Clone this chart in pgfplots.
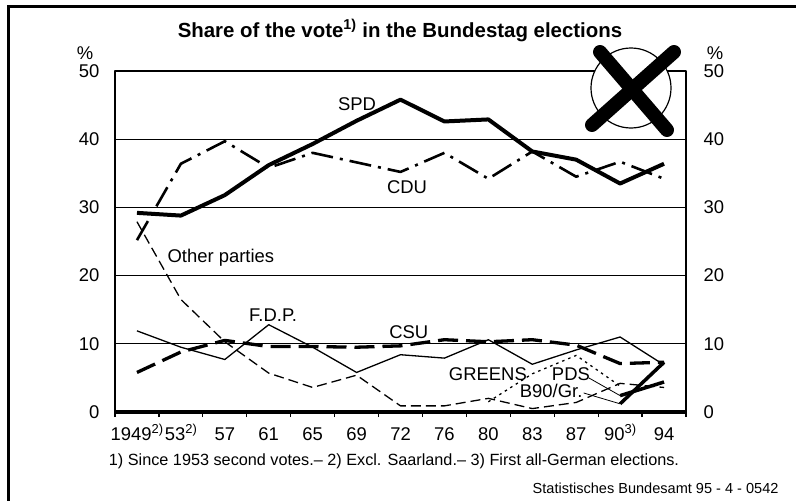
\documentclass[border=0pt]{standalone}
\usepackage{fontspec}
\setmainfont{Liberation Sans}
\usepackage{pgfplots}
\pgfplotsset{compat=1.18}
\newcommand{\lf}{\fontsize{18.5}{22}\selectfont}
\newcommand{\fnsup}[1]{\raisebox{0.38em}{\fontsize{13}{15}\selectfont #1}}
\begin{document}
\begin{tikzpicture}
\useasboundingbox (0bp,0bp) rectangle (796bp,-501bp);
\draw[line width=2.2bp] (8.5bp,-501bp) -- (8.5bp,-6.5bp) -- (796bp,-6.5bp);
\node[anchor=base, font=\fontsize{20.5}{24}\selectfont\bfseries] at (400bp,-37.3bp) {Share of the vote\textsuperscript{1)} in the Bundestag elections};
\node[font=\lf] at (85bp,-53.5bp) {\%};
\node[font=\lf] at (715bp,-53.5bp) {\%};
\begin{axis}[at={(115bp,-412bp)}, anchor=south west, scale only axis,
  width=571bp, height=341bp, xmin=-0.5, xmax=12.5, ymin=0, ymax=50,
  clip=false,
  /pgf/number format/assume math mode=true,
  ytick={0,10,...,50}, ytick pos=left,
  yticklabel style={anchor=east, xshift=-12bp, font=\lf},
  ymajorgrids, grid style={line width=1bp, black},
  xtick={0,...,12},
  xticklabels={1949\fnsup{2)},53\fnsup{2)},57,61,65,69,72,76,80,83,87,90\fnsup{3)},94},
  minor xtick={-0.5,0.5,...,12.5}, xtick pos=bottom, tick align=outside,
  major tick length=0pt, minor tick length=5bp,
  minor tick style={line width=1.2bp, black},
  xticklabel style={anchor=base, yshift=-28bp, font=\lf},
  axis line style={line width=1.2bp},
  line join=round]
\draw[line width=3.3bp] (axis cs:-0.5,0) -- (axis cs:12.5,0);
% Other parties
\addplot[line width=1.3bp, dash pattern=on 10bp off 5bp] coordinates {
(0,27.9)(1,16.5)(2,10.3)(3,5.7)(4,3.6)(5,5.4)(6,0.9)(7,0.9)(8,2.0)(9,0.5)(10,1.4)(11,4.2)(12,3.6)};
% FDP
\addplot[line width=1.3bp] coordinates {
(0,11.9)(1,9.5)(2,7.7)(3,12.8)(4,9.5)(5,5.8)(6,8.4)(7,7.9)(8,10.6)(9,7.0)(10,9.1)(11,11.0)(12,6.9)};
% Greens
\addplot[line width=1.3bp, dash pattern=on 2.5bp off 4bp] coordinates {
(8,1.5)(9,5.6)(10,8.3)(11,3.8)};
% CSU
\addplot[line width=3.3bp, dash pattern=on 20bp off 8bp] coordinates {
(0,5.8)(1,8.8)(2,10.5)(3,9.6)(4,9.6)(5,9.5)(6,9.7)(7,10.6)(8,10.3)(9,10.6)(10,9.8)(11,7.1)(12,7.3)};
% CDU
\addplot[line width=2.6bp, dash pattern=on 22bp off 7bp on 3bp off 7bp] coordinates {
(0,25.2)(1,36.4)(2,39.7)(3,35.8)(4,38.0)(5,36.6)(6,35.2)(7,38.0)(8,34.2)(9,38.2)(10,34.5)(11,36.7)(12,34.2)};
% PDS
\addplot[line width=3.5bp] coordinates {(11,2.4)(12,4.4)};
% B90/Gr
\addplot[line width=3.5bp] coordinates {(11,1.2)(12,7.3)};
% SPD
\addplot[line width=4bp] coordinates {
(0,29.2)(1,28.8)(2,31.8)(3,36.2)(4,39.3)(5,42.7)(6,45.8)(7,42.6)(8,42.9)(9,38.2)(10,37.0)(11,33.5)(12,36.4)};
\node[anchor=base, font=\lf] at (axis cs:5.01,44.28) {SPD};
\node[anchor=base, font=\lf] at (axis cs:6.15,32.11) {CDU};
\node[anchor=base, font=\lf] at (axis cs:1.91,21.99) {Other parties};
\node[anchor=base, font=\lf] at (axis cs:3.10,13.2) {F.D.P.};
\node[anchor=base, font=\lf] at (axis cs:6.19,10.85) {CSU};
\node[anchor=base, font=\lf] at (axis cs:7.99,4.69) {GREENS};
\node[anchor=base, font=\lf] at (axis cs:9.88,4.69) {PDS};
\node[anchor=base, font=\lf] at (axis cs:9.43,2.2) {B90/Gr.};
\draw[line width=0.8bp] (axis cs:10.29,4.99) -- (axis cs:11,2.4);
\draw[line width=0.8bp] (axis cs:10.17,2.79) -- (axis cs:11,1.2);
\end{axis}
\begin{axis}[at={(115bp,-412bp)}, anchor=south west, scale only axis,
  width=571bp, height=341bp, xmin=-0.5, xmax=12.5, ymin=0, ymax=50,
  axis x line=none, axis y line*=right,
  /pgf/number format/assume math mode=true,
  ytick={0,10,...,50}, major tick length=0pt,
  yticklabel style={anchor=west, xshift=14bp, font=\lf},
  axis line style={line width=1.2bp}]
\addplot[draw=none] coordinates {(0,0)};
\end{axis}
\draw[line width=1.2bp, fill=white] (631bp,-88bp) circle (40bp);
\draw[line width=14bp, line cap=round] (600bp,-52bp) -- (667bp,-130bp);
\draw[line width=14bp, line cap=round] (674bp,-52bp) -- (592bp,-125bp);
\node[anchor=base, font=\fontsize{16.3}{19}\selectfont] at (394bp,-465bp) {1) Since 1953 second votes.\textendash\ 2) Excl. Saarland.\textendash\ 3) First all-German elections.};
\node[anchor=base east, font=\fontsize{14.6}{17}\selectfont] at (782bp,-493.3bp) {Statistisches Bundesamt 95 - 4 - 0542};
\end{tikzpicture}
\end{document}
